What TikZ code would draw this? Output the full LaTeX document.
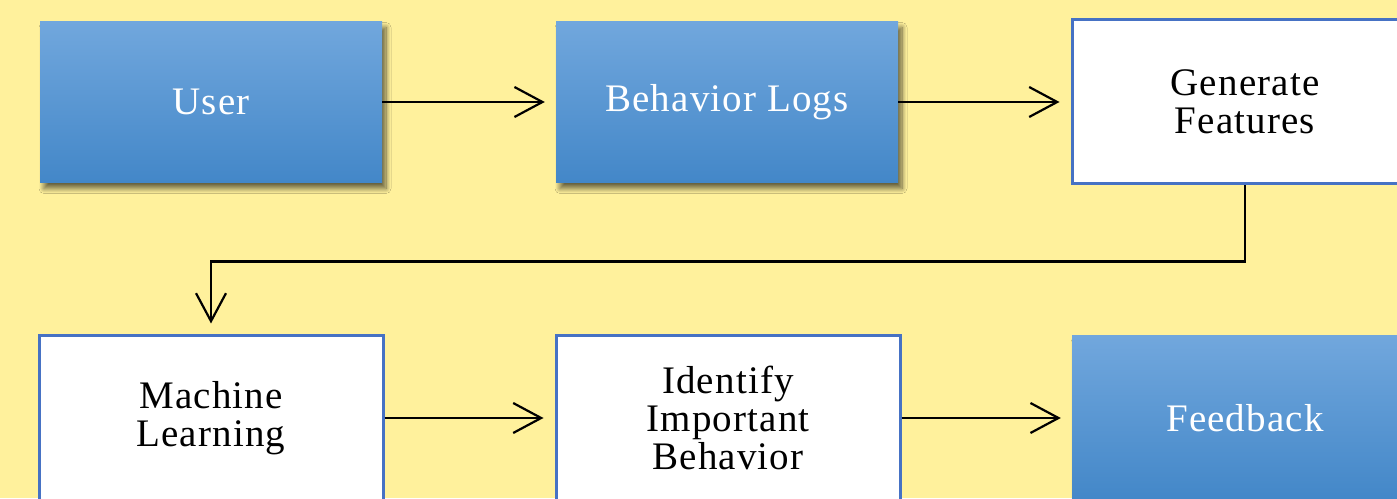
\documentclass[tikz,border=0pt]{standalone}
\usepackage{fontspec}
\setmainfont{Liberation Serif}[LetterSpace=3]
\usetikzlibrary{arrows.meta,shadows.blur}
\definecolor{bgyellow}{RGB}{255,241,156}
\definecolor{boxtop}{RGB}{113,167,221}
\definecolor{boxbot}{RGB}{67,135,200}
\definecolor{boxline}{RGB}{70,114,196}
\tikzset{
  bluebox/.style={rectangle, minimum width=342pt, minimum height=161pt,
    top color=boxtop, bottom color=boxbot, draw=none, text=white,
    align=center, font=\fontsize{39}{39}\selectfont,
    blur shadow={shadow xshift=4pt, shadow yshift=-6pt,
      shadow blur radius=5pt, shadow opacity=60, shadow blur steps=10}},
  whitebox/.style={rectangle, minimum width=344pt, minimum height=164pt,
    fill=white, draw=boxline, line width=3pt, text=black,
    align=center, font=\fontsize{39}{38}\selectfont},
  flow/.style={line width=2.2pt, black,
    -{Straight Barb[length=28pt, width=30pt, line width=2.2pt]},
    shorten >=11pt}
}
\begin{document}
\begin{tikzpicture}[x=1pt, y=1pt]
  \clip (0,0) rectangle (1397,498);
  \fill[bgyellow] (0,0) rectangle (1397,498);

  % top row
  \node[bluebox] (user) at (211,396) {User};
  \node[bluebox] (logs) at (727,396) {Behavior Logs};
  \node[whitebox, minimum width=346pt] (gen) at (1245,396) {Generate\\Features};

  % bottom row
  \node[whitebox] (ml) at (211,80) {Machine\\Learning};
  \node[whitebox] (idb) at (728,80) {Identify\\Important\\Behavior};
  \node[bluebox, minimum width=346pt, minimum height=164pt] (fb) at (1245,80) {Feedback};

  % connectors
  \draw[flow] (user.east) -- (logs.west);
  \draw[flow] (logs.east) -- (gen.west);
  \draw[flow] (gen.south) -- ++(0,-76) -| (ml.north);
  \draw[flow] (ml.east) -- (idb.west);
  \draw[flow] (idb.east) -- (fb.west);
\end{tikzpicture}
\end{document}
